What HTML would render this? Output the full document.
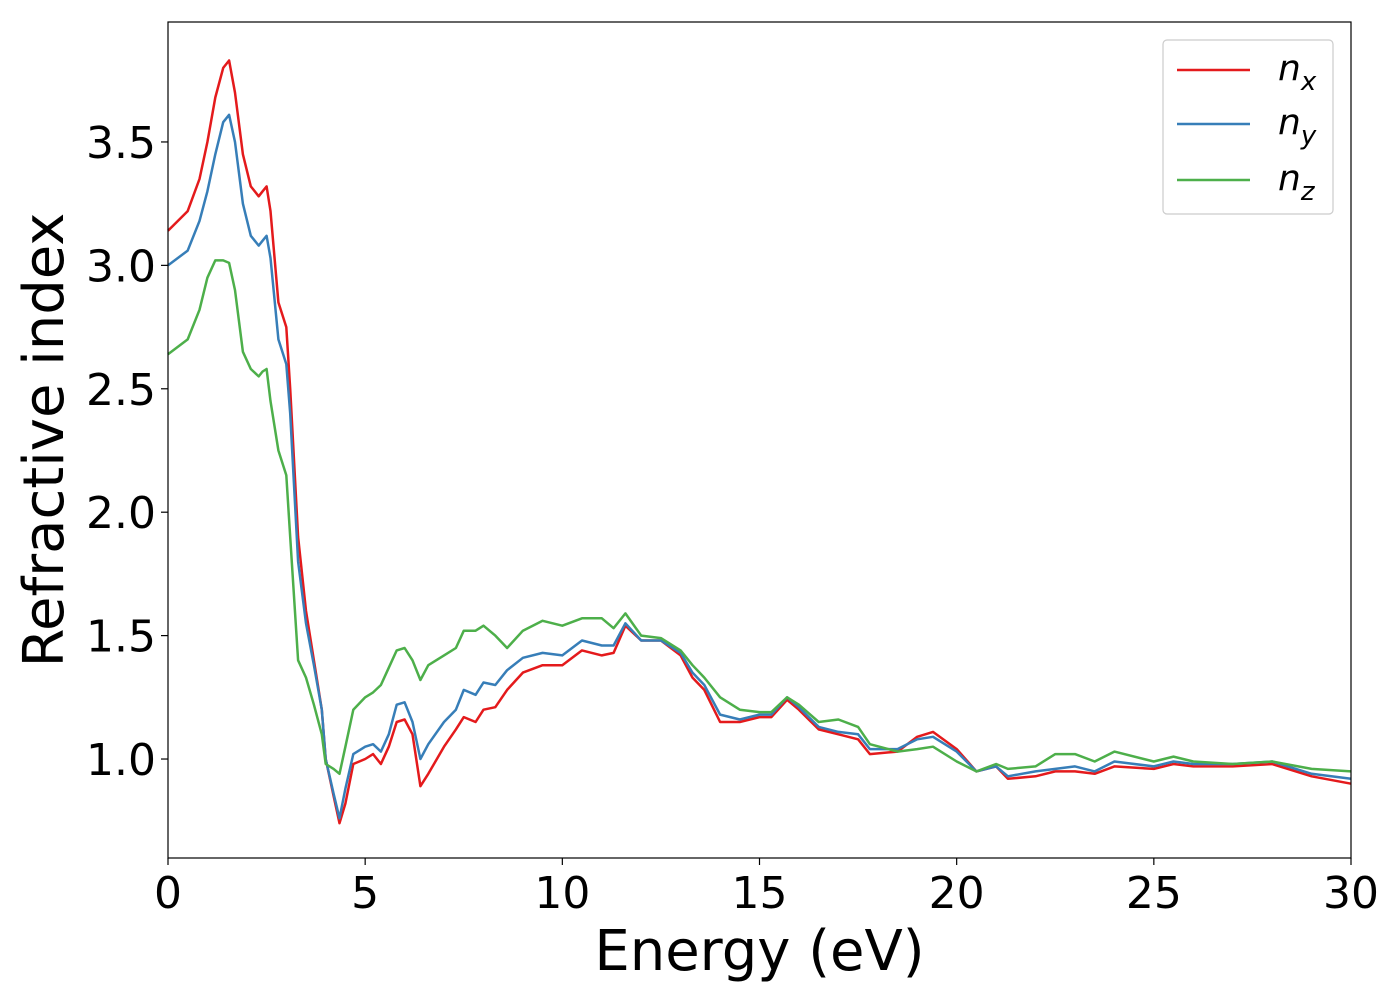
<!DOCTYPE html>
<html><head><meta charset="utf-8"><style>
body{margin:0;background:#fff;}
svg text{font-family:"DejaVu Sans","Liberation Sans",sans-serif;}
</style></head><body>
<svg id="chart" width="1400" height="1000" xmlns="http://www.w3.org/2000/svg">
<rect width="1400" height="1000" fill="#fff"/>
<g id="plot"></g>
</svg>
<script>
const energy=[0,0.5,0.8,1.0,1.2,1.4,1.55,1.7,1.9,2.1,2.3,2.4,2.5,2.6,2.8,3.0,3.1,3.3,3.5,3.7,3.9,4.0,4.2,4.35,4.5,4.7,5.0,5.2,5.4,5.6,5.8,6.0,6.2,6.4,6.6,7.0,7.3,7.5,7.8,8.0,8.3,8.6,9.0,9.5,10,10.5,11,11.3,11.6,12,12.5,13,13.3,13.6,14,14.5,15,15.3,15.7,16,16.5,17,17.5,17.8,18.5,19,19.4,20,20.5,21,21.3,22,22.5,23,23.5,24,25,25.5,26,27,28,29,30];
const nx=[3.14,3.22,3.35,3.5,3.68,3.8,3.83,3.7,3.45,3.32,3.28,3.3,3.32,3.22,2.85,2.75,2.5,1.9,1.6,1.4,1.2,1.0,0.85,0.74,0.82,0.98,1.0,1.02,0.98,1.05,1.15,1.16,1.1,0.89,0.94,1.05,1.12,1.17,1.15,1.2,1.21,1.28,1.35,1.38,1.38,1.44,1.42,1.43,1.54,1.48,1.48,1.42,1.33,1.28,1.15,1.15,1.17,1.17,1.24,1.2,1.12,1.1,1.08,1.02,1.03,1.09,1.11,1.04,0.95,0.97,0.92,0.93,0.95,0.95,0.94,0.97,0.96,0.98,0.97,0.97,0.98,0.93,0.9];
const ny=[3.0,3.06,3.18,3.3,3.45,3.58,3.61,3.5,3.25,3.12,3.08,3.1,3.12,3.03,2.7,2.6,2.4,1.8,1.55,1.38,1.2,1.0,0.86,0.76,0.88,1.02,1.05,1.06,1.03,1.1,1.22,1.23,1.15,1.0,1.06,1.15,1.2,1.28,1.26,1.31,1.3,1.36,1.41,1.43,1.42,1.48,1.46,1.46,1.55,1.48,1.48,1.43,1.35,1.3,1.18,1.16,1.18,1.18,1.25,1.21,1.13,1.11,1.1,1.04,1.04,1.08,1.09,1.03,0.95,0.97,0.93,0.95,0.96,0.97,0.95,0.99,0.97,0.99,0.98,0.98,0.99,0.94,0.92];
const nz=[2.64,2.7,2.82,2.95,3.02,3.02,3.01,2.9,2.65,2.58,2.55,2.57,2.58,2.45,2.25,2.15,1.9,1.4,1.33,1.22,1.1,0.98,0.96,0.94,1.05,1.2,1.25,1.27,1.3,1.37,1.44,1.45,1.4,1.32,1.38,1.42,1.45,1.52,1.52,1.54,1.5,1.45,1.52,1.56,1.54,1.57,1.57,1.53,1.59,1.5,1.49,1.44,1.38,1.33,1.25,1.2,1.19,1.19,1.25,1.22,1.15,1.16,1.13,1.06,1.03,1.04,1.05,0.99,0.95,0.98,0.96,0.97,1.02,1.02,0.99,1.03,0.99,1.01,0.99,0.98,0.99,0.96,0.95];
const xTicks=[0,5,10,15,20,25,30];
const yTicks=[1.0,1.5,2.0,2.5,3.0,3.5];
const yTickLabels=["1.0","1.5","2.0","2.5","3.0","3.5"];
const L=168,R=1351,T=22,B=858,xMin=0,xMax=30,yMin=0.599,yMax=3.986;
const sx=v=>L+(v-xMin)/(xMax-xMin)*(R-L);
const sy=v=>B-(v-yMin)/(yMax-yMin)*(B-T);
const NS="http://www.w3.org/2000/svg";
const g=document.getElementById('plot');
function mk(tag,attrs,parent){const e=document.createElementNS(NS,tag);for(const k in attrs)e.setAttribute(k,attrs[k]);(parent||g).appendChild(e);return e;}
function line(data,color,name){
  const d=energy.map((x,i)=>(i?'L':'M')+sx(x).toFixed(1)+','+sy(data[i]).toFixed(1)).join('');
  const p=mk('path',{d:d,fill:'none',stroke:color,'stroke-width':2.5,'stroke-linejoin':'round'});
  
  
}
line(nx,'#e41a1c','series-nx');
line(ny,'#377eb8','series-ny');
line(nz,'#4daf4a','series-nz');
const frame=mk('rect',{x:L,y:T,width:R-L,height:B-T,fill:'none',stroke:'#000','stroke-width':1.2});


xTicks.forEach(v=>{
  const t=mk('line',{x1:sx(v),x2:sx(v),y1:B,y2:B+7,stroke:'#000','stroke-width':1.2});
  
  
  const tx=mk('text',{x:sx(v),y:B+50,'text-anchor':'middle','font-size':44});
  tx.textContent=String(v);
  
  
});
yTicks.forEach((v,i)=>{
  const t=mk('line',{x1:L-7,x2:L,y1:sy(v),y2:sy(v),stroke:'#000','stroke-width':1.2});
  
  
  const tx=mk('text',{x:L-12,y:sy(v)+16,'text-anchor':'end','font-size':44});
  tx.textContent=yTickLabels[i];
  
  
});
const xl=mk('text',{x:(L+R)/2,y:970,'text-anchor':'middle','font-size':56});
xl.textContent='Energy (eV)';


const yl=mk('text',{x:0,y:0,'text-anchor':'middle','font-size':56,transform:'translate(63,440) rotate(-90)'});
yl.textContent='Refractive index';


const lg=mk('g',{});


mk('rect',{x:1163,y:40,width:170,height:174,rx:4,fill:'#fff',stroke:'#ccc','stroke-width':1.2},lg);
[['#e41a1c','x',70],['#377eb8','y',124],['#4daf4a','z',180]].forEach(([c,s,y])=>{
  const e=mk('g',{},lg);
  
  
  mk('line',{x1:1177,x2:1250,y1:y,y2:y,stroke:c,'stroke-width':2.5},e);
  const t=mk('text',{x:1278,y:y+10,'font-size':36,'font-style':'italic'},e);
  t.textContent='n';
  const sub=mk('tspan',{'font-size':26,dy:10},t);
  sub.textContent=s;
});
</script>
</body></html>
